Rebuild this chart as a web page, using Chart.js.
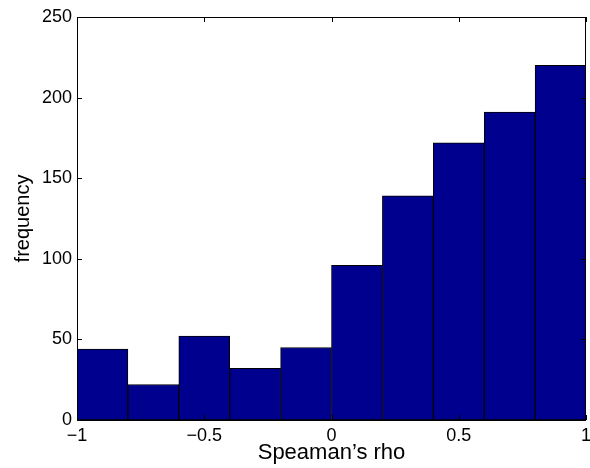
<!DOCTYPE html>
<html><head><meta charset="utf-8">
<script src="https://cdn.jsdelivr.net/npm/chart.js@4/dist/chart.umd.min.js"></script>
<style>html,body{margin:0;padding:0;background:#fff}#wrap{width:590px;height:468px}</style>
</head><body><div id="wrap"><canvas id="c" width="590" height="468"></canvas></div>
<script>
const binCenters = [-0.9, -0.7, -0.5, -0.3, -0.1, 0.1, 0.3, 0.5, 0.7, 0.9];
const frequencies = [44, 22, 52, 32, 45, 96, 139, 172, 191, 220];
const xTicks = [-1, -0.5, 0, 0.5, 1];
const yTicks = [0, 50, 100, 150, 200, 250];
const xTitle = 'Speaman\u2019s rho';
const yTitle = 'frequency';

const FONT = 'Liberation Sans, Arial, sans-serif';

const boxPlugin = {
  id: 'box',
  afterDatasetsDraw(chart) {
    const {ctx, chartArea: a, scales: {x, y}} = chart;
    ctx.save();
    ctx.strokeStyle = '#000';
    ctx.lineWidth = 1;
    ctx.beginPath();
    ctx.rect(Math.round(a.left) + 0.5, Math.round(a.top) + 0.5, Math.round(a.right - a.left) - 1, Math.round(a.bottom - a.top));
    ctx.stroke();
    const tl = 5;
    ctx.beginPath();
    xTicks.forEach(v => {
      const px = Math.round(x.getPixelForValue(v)) + 0.5;
      ctx.moveTo(px, a.bottom); ctx.lineTo(px, a.bottom - tl);
      ctx.moveTo(px, a.top); ctx.lineTo(px, a.top + tl);
    });
    yTicks.forEach(v => {
      const py = Math.round(y.getPixelForValue(v)) + 0.5;
      ctx.moveTo(a.left, py); ctx.lineTo(a.left + tl, py);
      ctx.moveTo(a.right, py); ctx.lineTo(a.right - tl, py);
    });
    ctx.stroke();
    ctx.restore();
  }
};

new Chart(document.getElementById('c'), {
  type: 'bar',
  data: {
    datasets: [{
      data: binCenters.map((c, i) => ({x: c, y: frequencies[i]})),
      backgroundColor: 'rgb(0,0,143)',
      borderColor: '#000',
      borderWidth: 1,
      borderSkipped: false,
      barPercentage: 1,
      categoryPercentage: 1
    }]
  },
  options: {
    responsive: false,
    animation: false,
    devicePixelRatio: 1,
    layout: {padding: {top: 17, right: 4, left: 0, bottom: 0}},
    plugins: {legend: {display: false}, tooltip: {enabled: false}},
    scales: {
      x: {
        type: 'linear', min: -1, max: 1, offset: false,
        afterBuildTicks: s => { s.ticks = xTicks.map(v => ({value: v})); },
        afterFit: s => { s.height = 48; s.paddingLeft = 0; s.paddingRight = 0; },
        grid: {display: false, drawTicks: false},
        border: {display: false},
        ticks: {
          color: '#000', padding: 5, maxRotation: 0, autoSkip: false,
          font: {family: FONT, size: 18},
          callback: v => (v < 0 ? '\u2212' + Math.abs(v) : String(v))
        },
        title: {display: true, text: xTitle, color: '#000', font: {family: FONT, size: 22}, padding: {top: 0, bottom: 2}}
      },
      y: {
        min: 0, max: 250,
        afterBuildTicks: s => { s.ticks = yTicks.map(v => ({value: v})); },
        afterFit: s => { s.width = 77; s.paddingTop = 0; s.paddingBottom = 0; },
        grid: {display: false, drawTicks: false},
        border: {display: false},
        ticks: {color: '#000', padding: 5, autoSkip: false, font: {family: FONT, size: 18}},
        title: {display: true, text: yTitle, color: '#000', font: {family: FONT, size: 20}, padding: {top: 11, bottom: 0}}
      }
    }
  },
  plugins: [boxPlugin]
});
</script></body></html>
